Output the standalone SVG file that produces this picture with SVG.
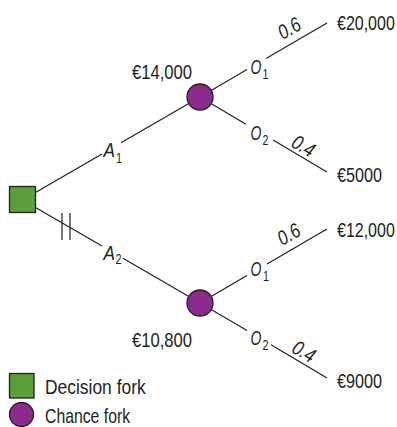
<svg xmlns="http://www.w3.org/2000/svg" width="397" height="427" viewBox="0 0 397 427">
<style>
.ln{stroke:#231f20;stroke-width:1.2;fill:none}
.t{font-family:"Liberation Sans",Arial,sans-serif;font-size:20.5px;fill:#231f20}
.i{font-family:"Liberation Sans",Arial,sans-serif;font-size:20.5px;font-style:italic;fill:#231f20}
.s{font-family:"Liberation Sans",Arial,sans-serif;font-size:14px;fill:#231f20}
.dec{fill:#5b9f3a;stroke:#231f20;stroke-width:1.3}
.chn{fill:#8d2a8e;stroke:#231f20;stroke-width:1.3}
</style>
<rect width="397" height="427" fill="#ffffff"/>
<g id="connectors">
  <path class="ln" d="M22.5,200 L102,153.9 M121,142.8 L200,97"/>
  <path class="ln" d="M22.5,200 L102,246.1 M123,258.3 L200,303"/>
  <path class="ln" d="M62,213 V240 M70,213 V240"/>
  <path class="ln" d="M200,97 L247,69.6 M266,58.5 L327,23"/>
  <path class="ln" d="M200,97 L246,124.2 M273,140.1 L327,172"/>
  <path class="ln" d="M200,303 L247,275.6 M267,264 L327,229"/>
  <path class="ln" d="M200,303 L247,330.6 M271,344.8 L327,378"/>
  <text class="i" transform="translate(103.5 157) scale(0.84 1)">A</text>
  <text class="s" transform="translate(116 162.5) scale(0.77 1)">1</text>
  <text class="i" transform="translate(103.5 260) scale(0.84 1)">A</text>
  <text class="s" transform="translate(115.5 263.5) scale(0.77 1)">2</text>
  <text class="i" transform="translate(250.5 73.5) scale(0.68 1)">O</text>
  <text class="s" transform="translate(262.5 78.5) scale(0.77 1)">1</text>
  <text class="i" transform="translate(250.5 140) scale(0.68 1)">O</text>
  <text class="s" transform="translate(262.5 145) scale(0.77 1)">2</text>
  <text class="i" transform="translate(250.5 275.5) scale(0.68 1)">O</text>
  <text class="s" transform="translate(263 281) scale(0.77 1)">1</text>
  <text class="i" transform="translate(250.5 345) scale(0.68 1)">O</text>
  <text class="s" transform="translate(262.5 350) scale(0.77 1)">2</text>
  <text class="i" text-anchor="middle" transform="translate(292.8 34.3) rotate(-30) scale(0.81 1)">0.6</text>
  <text class="i" text-anchor="middle" transform="translate(300 152) rotate(30) scale(0.81 1)">0.4</text>
  <text class="i" text-anchor="middle" transform="translate(292.3 240.3) rotate(-30) scale(0.81 1)">0.6</text>
  <text class="i" text-anchor="middle" transform="translate(300.5 357.5) rotate(30) scale(0.81 1)">0.4</text>
</g>
<g id="decision">
  <rect class="dec" x="9.5" y="186.5" width="26" height="26"/>
</g>
<g id="chance1">
  <circle class="chn" cx="200" cy="97" r="13"/>
  <text class="t" transform="translate(132 79) scale(0.81 1)">€14,000</text>
</g>
<g id="chance2">
  <circle class="chn" cx="200" cy="303" r="13"/>
  <text class="t" transform="translate(132 347) scale(0.81 1)">€10,800</text>
</g>
<g id="outcome-a1-o1"><text class="t" transform="translate(337 30) scale(0.78 1)">€20,000</text></g>
<g id="outcome-a1-o2"><text class="t" transform="translate(337 182) scale(0.79 1)">€5000</text></g>
<g id="outcome-a2-o1"><text class="t" transform="translate(337 237) scale(0.78 1)">€12,000</text></g>
<g id="outcome-a2-o2"><text class="t" transform="translate(337 388) scale(0.79 1)">€9000</text></g>
<g id="legend">
  <rect class="dec" x="9.5" y="373.5" width="24.5" height="24.5"/>
  <text class="t" transform="translate(45 394) scale(0.85 1)">Decision fork</text>
  <circle class="chn" cx="21.5" cy="414.5" r="12"/>
  <text class="t" transform="translate(45 422.5) scale(0.77 1)">Chance fork</text>
</g>
</svg>
